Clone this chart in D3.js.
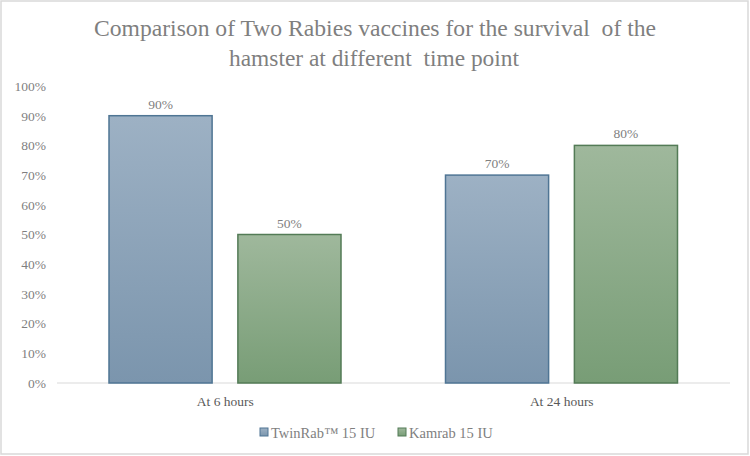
<!DOCTYPE html>
<html>
<head>
<meta charset="utf-8">
<script src="https://cdn.jsdelivr.net/npm/d3@7"></script>
<style>
  body { margin: 0; background: #fff; }
  svg { display: block; }
  svg text { font-family: "Liberation Serif", "DejaVu Serif", serif; }
</style>
</head>
<body>
<svg id="viz" width="750" height="456"></svg>
<script>
// chart data
var categories = ["At 6 hours", "At 24 hours"];
var seriesNames = ["TwinRab\u2122 15 IU", "Kamrab 15 IU"];
var twinRab = [0.9, 0.7];
var kamrab = [0.5, 0.8];
var yTicks = [0, 0.1, 0.2, 0.3, 0.4, 0.5, 0.6, 0.7, 0.8, 0.9, 1.0];

var serif = "Liberation Serif, serif";
var svg = d3.select("#viz");

// outer frame
svg.append("rect")
    .attr("x", 1).attr("y", 1)
    .attr("width", 747).attr("height", 453)
    .attr("fill", "#fff")
    .attr("stroke", "#d9d9d9")
    .attr("stroke-width", 1.5);

// gradients for the bars
var defs = svg.append("defs");
var fills = [
    {id: "gBlue", top: "#9db1c4", bottom: "#7b95ad"},
    {id: "gGreen", top: "#9fb89c", bottom: "#789d76"}
];
fills.forEach(function(f) {
    var g = defs.append("linearGradient")
        .attr("id", f.id)
        .attr("x1", 0).attr("y1", 0).attr("x2", 0).attr("y2", 1);
    g.append("stop").attr("offset", "0%").attr("stop-color", f.top);
    g.append("stop").attr("offset", "100%").attr("stop-color", f.bottom);
});
var strokes = ["#4f7594", "#537b56"];

// title (slightly condensed like the original)
svg.append("text")
    .attr("x", 375).attr("y", 36)
    .attr("text-anchor", "middle")
    .attr("font-family", serif)
    .attr("font-size", 24)
    .attr("fill", "#7f7f7f")
    .attr("textLength", 562)
    .attr("lengthAdjust", "spacingAndGlyphs")
    .style("white-space", "pre")
    .text("Comparison of Two Rabies vaccines for the survival  of the");
svg.append("text")
    .attr("x", 374).attr("y", 66)
    .attr("text-anchor", "middle")
    .attr("font-family", serif)
    .attr("font-size", 24)
    .attr("fill", "#7f7f7f")
    .attr("textLength", 290)
    .attr("lengthAdjust", "spacingAndGlyphs")
    .style("white-space", "pre")
    .text("hamster at different  time point");

// scales
var xBand = d3.scaleBand()
    .domain(categories)
    .range([57, 730])
    .paddingInner(0)
    .paddingOuter(0);

var xInner = d3.scaleBand()
    .domain(seriesNames)
    .range([52, 284])
    .paddingInner(0.2);

var yScale = d3.scaleLinear()
    .domain([0, 1])
    .range([383, 86]);

// y axis labels
var yAxis = svg.append("g")
    .attr("transform", "translate(46,0)")
    .call(d3.axisLeft(yScale).tickValues(yTicks).tickFormat(d3.format(".0%")).tickSize(0).tickPadding(0));
yAxis.select(".domain").remove();
yAxis.selectAll("text")
    .attr("font-family", serif)
    .attr("font-size", 13.5)
    .attr("fill", "#7f7f7f");

// baseline
svg.append("line")
    .attr("x1", 57).attr("x2", 730)
    .attr("y1", yScale(0)).attr("y2", yScale(0))
    .attr("stroke", "#d9d9d9")
    .attr("stroke-width", 1);

// category labels
var xAxis = svg.append("g")
    .attr("transform", "translate(0," + yScale(0) + ")")
    .call(d3.axisBottom(xBand).tickSize(0).tickPadding(13));
xAxis.select(".domain").remove();
xAxis.selectAll("text")
    .attr("font-family", serif)
    .attr("font-size", 13.5)
    .attr("fill", "#595959");

// bars
var series = [twinRab, kamrab];
var rows = [];
categories.forEach(function(c, i) {
    series.forEach(function(s, j) {
        rows.push({cat: c, name: seriesNames[j], idx: j, value: s[i]});
    });
});

var groups = svg.append("g");
groups.selectAll("rect")
    .data(rows)
    .enter()
    .append("rect")
    .attr("x", d => xBand(d.cat) + xInner(d.name))
    .attr("y", d => yScale(d.value))
    .attr("width", xInner.bandwidth())
    .attr("height", d => yScale(0) - yScale(d.value))
    .attr("fill", d => "url(#" + fills[d.idx].id + ")")
    .attr("stroke", d => strokes[d.idx])
    .attr("stroke-width", 1.5);

// data labels
groups.selectAll("text.val")
    .data(rows)
    .enter()
    .append("text")
    .attr("class", "val")
    .attr("x", d => xBand(d.cat) + xInner(d.name) + xInner.bandwidth() / 2)
    .attr("y", d => yScale(d.value) - 7)
    .attr("text-anchor", "middle")
    .attr("font-family", serif)
    .attr("font-size", 13.5)
    .attr("fill", "#7f7f7f")
    .text(d => d3.format(".0%")(d.value));

// legend
var legend = svg.append("g").attr("transform", "translate(0,433)");
var legX = [260, 398];
seriesNames.forEach(function(n, i) {
    legend.append("rect")
        .attr("x", legX[i]).attr("y", -5)
        .attr("width", 8).attr("height", 8)
        .attr("fill", "url(#" + fills[i].id + ")")
        .attr("stroke", strokes[i])
        .attr("stroke-width", 1);
    legend.append("text")
        .attr("x", legX[i] + 11).attr("y", 4.5)
        .attr("font-family", serif)
        .attr("font-size", 14.5)
        .attr("fill", "#7f7f7f")
        .text(n);
});
</script>
</body>
</html>
